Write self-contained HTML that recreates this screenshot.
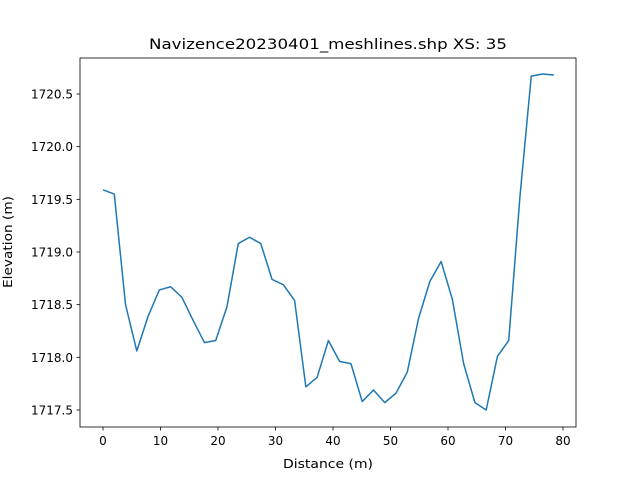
<!DOCTYPE html>
<html><head><meta charset="utf-8"><style>
body{margin:0;background:#fff;}
svg{display:block;font-family:"DejaVu Sans","Liberation Sans",sans-serif;}
</style></head><body>
<svg id="chart" width="640" height="480">
<rect width="640" height="480" fill="#fff"/>
<text x="328" y="49" text-anchor="middle" font-size="14.4" fill="#000" textLength="358" lengthAdjust="spacingAndGlyphs">Navizence20230401_meshlines.shp XS: 35</text>
<g id="xt"></g>
<g id="yt"></g>
<path id="line" fill="none" stroke="#1f77b4" stroke-width="1.5" stroke-linejoin="round"/>
<rect x="80" y="58" width="496" height="369" fill="none" stroke="#000" stroke-width="0.8"/>
<text x="328" y="468" text-anchor="middle" font-size="12" textLength="90" lengthAdjust="spacingAndGlyphs">Distance (m)</text>
<text transform="translate(12,242) rotate(-90)" text-anchor="middle" font-size="12" textLength="92" lengthAdjust="spacingAndGlyphs">Elevation (m)</text>
</svg>
<script>
const xTicks=[0,10,20,30,40,50,60,70,80];
const yTicks=[1717.5,1718.0,1718.5,1719.0,1719.5,1720.0,1720.5];
const step=1.96;
const elev=[1719.59,1719.55,1718.50,1718.06,1718.39,1718.64,1718.67,1718.57,1718.35,1718.14,1718.16,1718.48,1719.08,1719.14,1719.08,1718.74,1718.69,1718.54,1717.72,1717.81,1718.16,1717.96,1717.94,1717.58,1717.69,1717.57,1717.66,1717.86,1718.37,1718.72,1718.91,1718.55,1717.94,1717.57,1717.50,1718.01,1718.16,1719.53,1720.67,1720.69,1720.68];
const dist=elev.map((_,i)=>i*step);
const NS="http://www.w3.org/2000/svg";
function xs(v){return 103+v*5.75;}
function ys(v){return 94+(1720.5-v)*105.33;}
function tlen(s){let n=0;for(const c of s)n+=(c==='.')?3.8:7.63;return n;}
const xt=document.getElementById('xt'),yt=document.getElementById('yt');
xTicks.forEach(t=>{
 const l=document.createElementNS(NS,'line');
 l.setAttribute('x1',xs(t));l.setAttribute('x2',xs(t));l.setAttribute('y1',427);l.setAttribute('y2',430.5);l.setAttribute('stroke','#000');l.setAttribute('stroke-width','0.8');
 
 
 xt.appendChild(l);
 const tx=document.createElementNS(NS,'text');
 const s=String(t);
 tx.setAttribute('x',xs(t));tx.setAttribute('y',445);tx.setAttribute('text-anchor','middle');tx.setAttribute('font-size','12');
 tx.setAttribute('textLength',tlen(s));tx.setAttribute('lengthAdjust','spacingAndGlyphs');tx.textContent=s;
 
 
 xt.appendChild(tx);
});
yTicks.forEach(t=>{
 const l=document.createElementNS(NS,'line');
 l.setAttribute('x1',76.5);l.setAttribute('x2',80);l.setAttribute('y1',ys(t));l.setAttribute('y2',ys(t));l.setAttribute('stroke','#000');l.setAttribute('stroke-width','0.8');
 
 
 yt.appendChild(l);
 const tx=document.createElementNS(NS,'text');
 const s=t.toFixed(1);
 tx.setAttribute('x',73);tx.setAttribute('y',ys(t)+4.5);tx.setAttribute('text-anchor','end');tx.setAttribute('font-size','12');
 tx.setAttribute('textLength',tlen(s));tx.setAttribute('lengthAdjust','spacingAndGlyphs');tx.textContent=s;
 
 
 yt.appendChild(tx);
});
document.getElementById('line').setAttribute('d',elev.map((v,i)=>(i?'L':'M')+xs(dist[i]).toFixed(2)+','+ys(v).toFixed(2)).join(''));
</script>
</body></html>
